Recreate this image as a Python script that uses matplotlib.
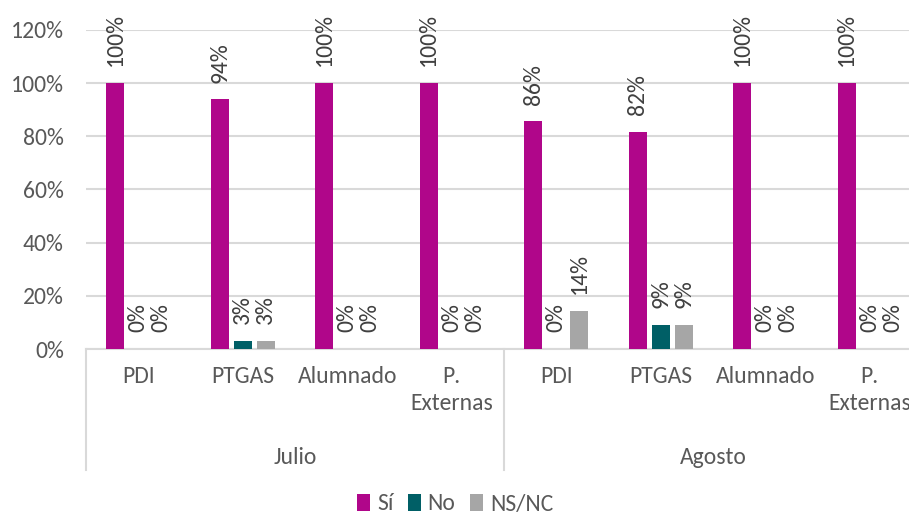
import matplotlib
matplotlib.use("Agg")
import matplotlib.pyplot as plt
from matplotlib.patches import Patch
from matplotlib.font_manager import fontManager

names = {f.name for f in fontManager.ttflist}
fam = [f for f in ["Carlito", "Liberation Sans Narrow", "Open Sans", "DejaVu Sans"] if f in names]
plt.rcParams['font.family'] = fam

months = ["Julio", "Agosto"]
groups = ["PDI", "PTGAS", "Alumnado", "P.\nExternas"]
series = ["Sí", "No", "NS/NC"]
si = [100, 93.9, 100, 100, 85.7, 81.8, 100, 100]
no = [0, 3.0, 0, 0, 0, 9.1, 0, 0]
nsnc = [0, 3.0, 0, 0, 14.3, 9.1, 0, 0]
colors = ["#B0068A", "#005F66", "#A6A6A6"]

W, H = 909, 516
FS = 17
fig = plt.figure(figsize=(W / 100, H / 100), dpi=100)
ax = fig.add_axes([86 / W, (H - 349) / H, (922 - 86) / W, (349 - 30) / H])

txt = "#595959"
n = len(si)
xs = list(range(n))
bw = 0.172
off = 0.22
for k, (vals, c) in enumerate(zip([si, no, nsnc], colors)):
    pos = [x + (k - 1) * off for x in xs]
    ax.bar(pos, [v / 100 for v in vals], width=bw, color=c, zorder=3, label=series[k])
    for p, v in zip(pos, vals):
        ax.annotate(f"{round(v)}%", (p, v / 100), xytext=(0, 12), textcoords="offset points",
                    rotation=90, ha="center", va="bottom", fontsize=FS, color="#404040",
                    annotation_clip=False)

ax.set_xlim(-0.5, n - 0.5)
ax.set_ylim(0, 1.2)
ax.set_yticks([i / 10 for i in range(0, 13, 2)])
ax.set_yticklabels([f"{i * 10}%" for i in range(0, 13, 2)], fontsize=FS, color=txt)
ax.tick_params(axis="y", length=0, pad=16)
ax.grid(axis="y", color="#D9D9D9", linewidth=1.5, zorder=0)
ax.set_axisbelow(True)
for s in ["left", "right", "top"]:
    ax.spines[s].set_visible(False)
ax.spines["bottom"].set_color("#D9D9D9")
ax.spines["bottom"].set_linewidth(1.5)

ax.set_xticks(xs)
ax.set_xticklabels(groups * len(months), fontsize=FS, color=txt, linespacing=1.4)
ax.tick_params(axis="x", length=0, pad=12)

trans = ax.get_xaxis_transform()
ybot = -(470 - 349) / (349 - 30)
for xsep in [-0.5, 3.5, 7.5]:
    ax.plot([xsep, xsep], [0, ybot], transform=trans, color="#D9D9D9", lw=1.5, clip_on=False)
for i, m in enumerate(months):
    ax.text(i * 4 + 1.5, -(457 - 349) / (349 - 30), m, transform=trans, ha="center", va="center",
            fontsize=FS, color=txt)

handles = [Patch(facecolor=c, edgecolor="none") for c in colors]
fig.legend(handles, series, loc="center", bbox_to_anchor=(455 / W, 1 - 504 / H), ncol=3,
           frameon=False, fontsize=FS, handlelength=0.55, handleheight=0.75, handletextpad=0.3,
           columnspacing=0.6, labelcolor=txt, borderpad=0.1)

fig.savefig("out.png", dpi=100)
